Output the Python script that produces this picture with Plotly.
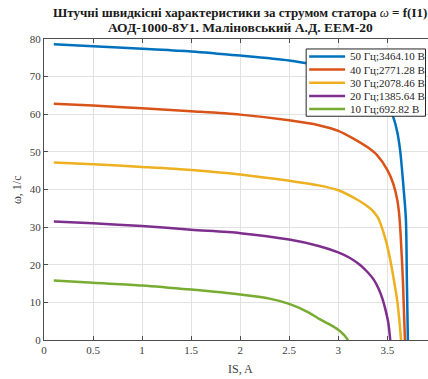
import plotly.graph_objects as go

# Stator-current speed characteristics of the AOD-1000-8U1 motor at several supply frequencies
labels = ["50 Гц;3464.10 В", "40 Гц;2771.28 В", "30 Гц;2078.46 В", "20 Гц;1385.64 В", "10 Гц;692.82 В"]
colors = ["#0072BD", "#D95319", "#EDB120", "#7E2F8E", "#77AC30"]

is_50 = [0.10, 0.50, 1.00, 1.50, 2.00, 2.50, 2.75, 3.00, 3.20, 3.35, 3.45, 3.52, 3.56, 3.60, 3.63, 3.67, 3.69, 3.70, 3.71]
w_50 = [78.6, 78.1, 77.4, 76.7, 75.6, 74.3, 73.2, 71.8, 69.8, 67.3, 64.5, 61.5, 59.3, 55.5, 50.6, 39.1, 31.9, 15.2, 0.0]

is_40 = [0.10, 0.50, 1.00, 1.50, 2.00, 2.50, 2.80, 3.00, 3.15, 3.30, 3.40, 3.50, 3.56, 3.60, 3.62, 3.635, 3.66, 3.68]
w_40 = [62.8, 62.3, 61.6, 60.8, 59.9, 58.4, 57.1, 55.6, 53.6, 51.2, 49.0, 45.2, 41.6, 37.5, 33.7, 28.4, 15.2, 0.0]

is_30 = [0.10, 0.50, 1.00, 1.50, 2.00, 2.50, 2.80, 3.00, 3.20, 3.30, 3.35, 3.40, 3.43, 3.46, 3.49, 3.53, 3.57, 3.60, 3.62, 3.64]
w_30 = [47.2, 46.7, 46.0, 45.2, 44.0, 42.3, 41.1, 39.8, 37.2, 35.5, 34.4, 32.7, 31.0, 28.7, 26.0, 21.3, 15.5, 10.7, 6.0, 0.0]

is_20 = [0.10, 0.50, 1.00, 1.50, 2.00, 2.50, 2.80, 3.00, 3.12, 3.22, 3.30, 3.36, 3.41, 3.45, 3.48, 3.51, 3.53]
w_20 = [31.5, 31.0, 30.3, 29.3, 28.4, 26.7, 25.0, 23.3, 21.8, 20.0, 18.0, 16.1, 13.7, 11.0, 8.2, 4.6, 0.0]

is_10 = [0.10, 0.50, 1.00, 1.50, 2.00, 2.30, 2.50, 2.70, 2.82, 2.92, 3.00, 3.06, 3.10]
w_10 = [15.8, 15.2, 14.5, 13.4, 12.1, 11.0, 9.6, 7.3, 5.4, 4.0, 2.7, 1.3, 0.0]

x_ticks = [0, 0.5, 1, 1.5, 2, 2.5, 3, 3.5]
y_ticks = [0, 10, 20, 30, 40, 50, 60, 70, 80]

series = [(is_50, w_50), (is_40, w_40), (is_30, w_30), (is_20, w_20), (is_10, w_10)]

FONT = "Liberation Serif, Times New Roman, serif"
AXIS = "#4d4d4d"
TEXT = "#404040"

# plot-area geometry in pixels, used to place the compact legend box
L, R, T, B = 43.5, 428.0, 38.5, 340.5


def px_x(p):
    return (p - L) / (R - L)


def px_y(p):
    return (B - p) / (B - T)


fig = go.Figure()
for (xs, ys), name, col in zip(series, labels, colors):
    fig.add_trace(go.Scatter(x=xs, y=ys, mode="lines", name=name, showlegend=False,
                             line=dict(color=col, width=2.5, shape="spline", smoothing=0.8)))

axis_common = dict(
    showgrid=True, gridcolor="#e2e2e2", gridwidth=1,
    showline=True, linecolor=AXIS, linewidth=1,
    ticks="inside", ticklen=4, tickcolor=AXIS,
    tickfont=dict(family=FONT, size=11, color=TEXT),
    zeroline=False,
)

# compact legend: framed white box with a line sample and label per series
shapes = [dict(type="rect", xref="paper", yref="paper", layer="above",
               x0=px_x(306), x1=px_x(425.5), y0=px_y(116), y1=px_y(48.5),
               fillcolor="white", line=dict(color="#262626", width=1))]
legend_text = []
for i, (name, col) in enumerate(zip(labels, colors)):
    yc = px_y(56 + 13.2 * i)
    shapes.append(dict(type="line", xref="paper", yref="paper", layer="above",
                       x0=px_x(309), x1=px_x(345), y0=yc, y1=yc,
                       line=dict(color=col, width=2.5)))
    legend_text.append(dict(text=name, x=px_x(347.5), y=yc, xref="paper", yref="paper",
                            xanchor="left", yanchor="middle", showarrow=False,
                            font=dict(family=FONT, size=11, color="#262626")))

fig.update_layout(
    width=428, height=379,
    margin=dict(l=L, r=0, t=T, b=379 - B),
    paper_bgcolor="white", plot_bgcolor="white",
    font=dict(family=FONT, color=TEXT),
    showlegend=False,
    xaxis=dict(range=[0, 3.915], tickvals=x_ticks, mirror="ticks", **axis_common),
    yaxis=dict(range=[0, 80], tickvals=y_ticks, mirror=False, **axis_common),
    shapes=shapes,
    annotations=[
        dict(text="<b>Штучні швидкісні характеристики за струмом статора </b><i>ω</i><b> = f(I1)</b>",
             x=2.0, xref="x", y=px_y(12), yref="paper", xanchor="center", yanchor="middle",
             showarrow=False, font=dict(family=FONT, size=13, color="#1a1a1a")),
        dict(text="<b>АОД-1000-8У1. Маліновський А.Д. ЕЕМ-20</b>",
             x=2.0, xref="x", y=px_y(26.5), yref="paper", xanchor="center", yanchor="middle",
             showarrow=False, font=dict(family=FONT, size=13.5, color="#1a1a1a")),
        dict(text="IS, A", x=2.0, xref="x", y=px_y(370), yref="paper",
             xanchor="center", yanchor="middle", showarrow=False,
             font=dict(family=FONT, size=12, color=TEXT)),
        dict(text="ω, 1/c", x=px_x(16), xref="paper", y=0.5, yref="paper",
             xanchor="center", yanchor="middle", textangle=-90, showarrow=False,
             font=dict(family=FONT, size=12, color=TEXT)),
    ] + legend_text,
)

fig.write_html("out.html")
